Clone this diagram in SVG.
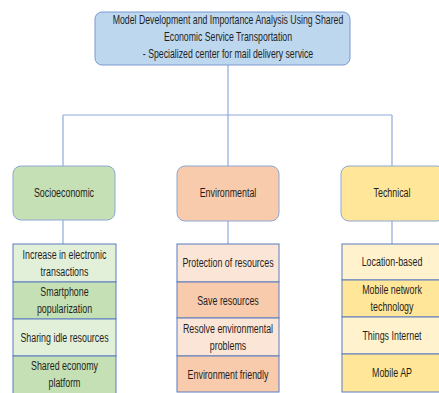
<svg xmlns="http://www.w3.org/2000/svg" width="439" height="393" viewBox="0 0 439 393">
<style>
text{font-family:"Liberation Sans",Arial,sans-serif;font-size:12.5px;fill:#1f1f1f;text-anchor:middle}
.conn{fill:none;stroke:#8FAADC;stroke-width:1.2}
.top{fill:#BDD7EE;stroke:#7A98CF;stroke-width:1}
.cat{stroke:#8FA7D3;stroke-width:1}
.row{stroke:#5B7DC0;stroke-width:1}
.g1{fill:#C5E0B4}.g2{fill:#E2F0D9}
.o1{fill:#F8CBAD}.o2{fill:#FBE5D6}
.y1{fill:#FFE699}.y2{fill:#FFF2CC}
</style>
<rect width="439" height="393" fill="#ffffff"/>
<g id="connectors">
<path class="conn" d="M228 65 V115 M63 115 H392 M63 115 V166 M228 115 V166 M392 115 V166 M63 220 V244 M228 221 V244 M392 221 V244"/>
</g>
<g id="root">
<rect class="top" x="95" y="12" width="255" height="53" rx="7"/>
<g transform="translate(228,0) scale(0.70,1)">
<text x="0" y="24.5">Model Development and Importance Analysis Using Shared</text>
<text x="0" y="41.5">Economic Service Transportation</text>
<text x="0" y="58">- Specialized center for mail delivery service</text>
</g>
</g>
<g id="socioeconomic">
<rect class="cat g1" x="13" y="166" width="102" height="54" rx="8"/>
<g transform="translate(64,0) scale(0.71,1)"><text x="0" y="197.5">Socioeconomic</text></g>
</g>
<g id="environmental">
<rect class="cat o1" x="177" y="166" width="102" height="55" rx="8"/>
<g transform="translate(228,0) scale(0.71,1)"><text x="0" y="197.5">Environmental</text></g>
</g>
<g id="technical">
<rect class="cat y1" x="341" y="166" width="104" height="55" rx="8"/>
<g transform="translate(392,0) scale(0.71,1)"><text x="0" y="197.5">Technical</text></g>
</g>
<g id="socio-list">
<rect class="row g2" x="13" y="244" width="103" height="38"/>
<rect class="row g1" x="13" y="282" width="103" height="37"/>
<rect class="row g2" x="13" y="319" width="103" height="37"/>
<rect class="row g1" x="13" y="356" width="103" height="40"/>
<g transform="translate(64.5,0) scale(0.71,1)">
<text x="0" y="259">Increase in electronic</text>
<text x="0" y="276">transactions</text>
<text x="0" y="296">Smartphone</text>
<text x="0" y="313">popularization</text>
<text x="0" y="342">Sharing idle resources</text>
<text x="0" y="370">Shared economy</text>
<text x="0" y="387">platform</text>
</g>
</g>
<g id="env-list">
<rect class="row o2" x="177" y="244" width="102" height="38"/>
<rect class="row o1" x="177" y="282" width="102" height="36"/>
<rect class="row o2" x="177" y="318" width="102" height="38"/>
<rect class="row o1" x="177" y="356" width="102" height="36"/>
<g transform="translate(228,0) scale(0.71,1)">
<text x="0" y="267">Protection of resources</text>
<text x="0" y="305">Save resources</text>
<text x="0" y="333">Resolve environmental</text>
<text x="0" y="350">problems</text>
<text x="0" y="379">Environment friendly</text>
</g>
</g>
<g id="tech-list">
<rect class="row y2" x="342" y="244" width="104" height="36"/>
<rect class="row y1" x="342" y="280" width="104" height="37"/>
<rect class="row y2" x="342" y="317" width="104" height="37"/>
<rect class="row y1" x="342" y="354" width="104" height="38"/>
<g transform="translate(392,0) scale(0.71,1)">
<text x="0" y="266">Location-based</text>
<text x="0" y="294">Mobile network</text>
<text x="0" y="311">technology</text>
<text x="0" y="340">Things Internet</text>
<text x="0" y="377">Mobile AP</text>
</g>
</g>
</svg>
